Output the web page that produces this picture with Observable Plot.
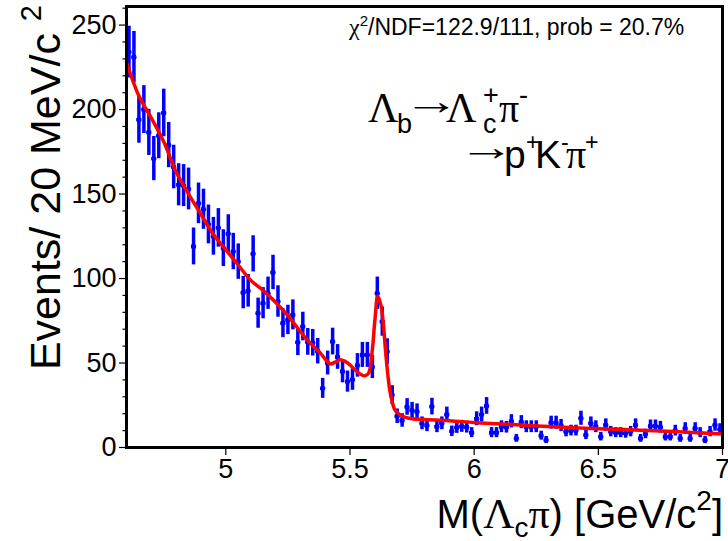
<!DOCTYPE html>
<html>
<head>
<meta charset="utf-8">
<script src="https://cdn.jsdelivr.net/npm/d3@7"></script>
<script src="https://cdn.jsdelivr.net/npm/@observablehq/plot@0.6"></script>
<style>
  html, body { margin: 0; padding: 0; background: #fff; }
  #chart { width: 728px; height: 541px; }
</style>
</head>
<body>
<div id="chart"></div>
<script>
// ---- data (Λc π invariant mass, 20 MeV bins from 4.60 to 7.00 GeV) ----
const binStart = 4.60;
const binWidth = 0.02;
const counts = [
  234, 231, 194, 200, 186.5, 171, 184.5, 198, 179, 166,
  155.5, 155, 153, 119, 144.5, 141, 132, 125, 130, 118,
  126.5, 116, 110, 91.7, 92.7, 114.6, 79.5, 85.4, 91.3, 103.6,
  86.4, 73.6, 75.5, 78.5, 62.3, 71.6, 62.5, 62, 57, 35,
  50, 62.7, 53.6, 45, 39, 40.2, 48.6, 54.8, 54.8, 47.7,
  91.3, 74.5, 56.8, 31, 18.5, 16, 24, 22, 21.2, 14.3,
  13, 24.2, 12.3, 14.3, 19.5, 9.6, 11.8, 12.5, 12, 8.8,
  17, 19.5, 24.6, 8.8, 8.8, 12.3, 12, 15.5, 5.4, 15,
  12.3, 12.3, 12.3, 7, 4.4, 14.7, 14.7, 13, 9.4, 10,
  10, 17.3, 7.4, 14.3, 12.3, 6.4, 13.3, 9.4, 8.8, 8.8,
  8.4, 9.4, 13.3, 5.4, 8, 12.7, 12.7, 12, 6.4, 6.4,
  10, 5.4, 11.3, 5.4, 11.3, 8.8, 4.4, 9.4, 13.3, 10.8
];
// fitted curve
const fitMass = [4.60, 4.65, 4.70, 4.75, 4.80, 4.85, 4.90, 4.95, 5.00, 5.05, 5.10, 5.15, 5.20, 5.25, 5.30, 5.34, 5.38, 5.42, 5.44, 5.46, 5.48, 5.50, 5.52, 5.54, 5.56, 5.575, 5.59, 5.60, 5.612, 5.625, 5.635, 5.645, 5.66, 5.67, 5.68, 5.70, 5.72, 5.75, 5.80, 5.90, 6.00, 6.10, 6.20, 6.30, 6.40, 6.50, 6.60, 6.70, 6.80, 6.90, 7.00];
const fitValue = [228, 208, 195, 181, 163, 150, 138, 126, 117, 108, 99, 93, 86, 78, 68.6, 61.7, 56, 49.5, 50.5, 52, 51, 48.9, 46, 43.5, 42.4, 44, 58, 75, 89.5, 84, 72, 54, 34, 27, 22.5, 19.5, 18, 17, 16.5, 15.9, 14.8, 14.0, 13.2, 12.4, 11.7, 11.1, 10.6, 10.1, 9.5, 8.8, 8.0];
const xTicks = [5, 5.5, 6, 6.5, 7];
const yTicks = [0, 50, 100, 150, 200, 250];
const yMinorTicks = [10,20,30,40,60,70,80,90,110,120,130,140,160,170,180,190,210,220,230,240,260];
const xDomain = [4.6, 7.0];
const yDomain = [0, 261];

// ---- tables for Plot ----
const bins = counts.map((n, i) => ({
  m: binStart + binWidth * (i + 0.5),
  lo: binStart + binWidth * i,
  hi: binStart + binWidth * (i + 1),
  n,
  nLo: n - Math.sqrt(n),
  nHi: n + Math.sqrt(n)
}));
const fit = fitMass.map((m, i) => ({m, v: fitValue[i]}));

const sans = "'Liberation Sans', Arial, Helvetica, sans-serif";
const serif = "'Liberation Serif', 'Times New Roman', serif";

const svg = Plot.plot({
  width: 728,
  height: 541,
  marginLeft: 126,
  marginRight: 6,
  marginTop: 6,
  marginBottom: 94,
  style: {fontFamily: sans, background: "#fff", color: "#000", overflow: "visible"},
  x: {domain: xDomain},
  y: {domain: yDomain},
  marks: [
    Plot.axisY(yMinorTicks, {tickSize: 3.5, tickFormat: () => "", strokeWidth: 1.2, label: null}),
    Plot.axisY(yTicks, {tickSize: 7, tickPadding: 3, fontSize: 27, strokeWidth: 1.2, label: null, tickFormat: d => String(d)}),
    Plot.axisX(xTicks, {tickSize: 8, tickPadding: 3, fontSize: 27, strokeWidth: 1.2, label: null, tickFormat: d => String(d)}),
    Plot.ruleX(bins, {x: "m", y1: "nLo", y2: "nHi", stroke: "#0000ff", strokeWidth: 3.5}),
    Plot.ruleY(bins, {y: "n", x1: "lo", x2: "hi", stroke: "#0000ff", strokeWidth: 3.5, insetLeft: 0.5, insetRight: 0.5}),
    Plot.dot(bins, {x: "m", y: "n", r: 2.6, fill: "#0000ff"}),
    Plot.line(fit, {x: "m", y: "v", stroke: "#ff0000", strokeWidth: 3.5, curve: "catmull-rom"}),
    Plot.frame({stroke: "#000", strokeWidth: 3})
  ]
});
document.getElementById("chart").appendChild(svg);

// ---- rich text annotations (sub/superscripts) ----
const root = d3.select(svg);

function rich(parent, x, y, anchor, size, parts) {
  const t = parent.append("text")
    .attr("x", x).attr("y", y)
    .attr("text-anchor", anchor)
    .attr("font-size", size)
    .attr("font-family", sans)
    .attr("fill", "#000");
  for (const p of parts) {
    const s = t.append("tspan").text(p.t);
    if (p.x != null) s.attr("x", p.x);
    if (p.y != null) s.attr("y", p.y);
    if (p.dx != null) s.attr("dx", p.dx);
    if (p.dy != null) s.attr("dy", p.dy);
    if (p.size) s.attr("font-size", p.size);
    if (p.font) s.attr("font-family", p.font);
  }
  return t;
}
// long thin arrow: a regular arrow glyph stretched horizontally
function arrow(x, y) {
  root.append("text")
    .attr("transform", `translate(${x},${y}) scale(1.5,1)`)
    .attr("text-anchor", "start")
    .attr("font-family", sans)
    .attr("font-size", 38)
    .attr("fill", "#000")
    .text("→");
}

// fit quality
rich(root, 349, 35, "start", 23, [
  {t: "χ", font: serif, size: 24},
  {t: "2", size: 15, dy: -9},
  {t: "/NDF=122.9/111, prob = 20.7%", dy: 9}
]);

// decay chain, line 1
rich(root, 368, 122, "start", 38, [
  {t: "Λ", font: serif, size: 42, x: 368, y: 122},
  {t: "b", size: 27, x: 397, y: 133},
  {t: "Λ", font: serif, size: 42, x: 446, y: 122},
  {t: "c", size: 27, x: 483, y: 133},
  {t: "+", size: 27, x: 483, y: 104},
  {t: "π", font: serif, size: 40, x: 499, y: 122},
  {t: "-", size: 27, x: 519, y: 104}
]);
arrow(403, 114);
// decay chain, line 2
rich(root, 504, 168, "start", 38, [
  {t: "p", size: 39, x: 504, y: 168},
  {t: "+", size: 23, x: 526, y: 150},
  {t: "K", size: 39, x: 535, y: 168},
  {t: "-", size: 23, x: 561, y: 150},
  {t: "π", font: serif, size: 40, x: 566, y: 168},
  {t: "+", size: 23, x: 585, y: 150}
]);
arrow(458, 160);

// x-axis title
rich(root, 723, 528, "end", 40, [
  {t: "M("},
  {t: "Λ", font: serif, size: 43},
  {t: "c", size: 28, dy: 9},
  {t: "π", font: serif, size: 42, dy: -9},
  {t: ") [GeV/c"},
  {t: "2", size: 28, dy: -18},
  {t: "]", dy: 18}
]);

// y-axis title (rotated)
const yt = root.append("g").attr("transform", "translate(60,5) rotate(-90)");
rich(yt, 0, 0, "end", 43, [
  {t: "Events/ 20 MeV/c"},
  {t: " "},
  {t: "2", size: 29, dy: -19}
]);
</script>
</body>
</html>
